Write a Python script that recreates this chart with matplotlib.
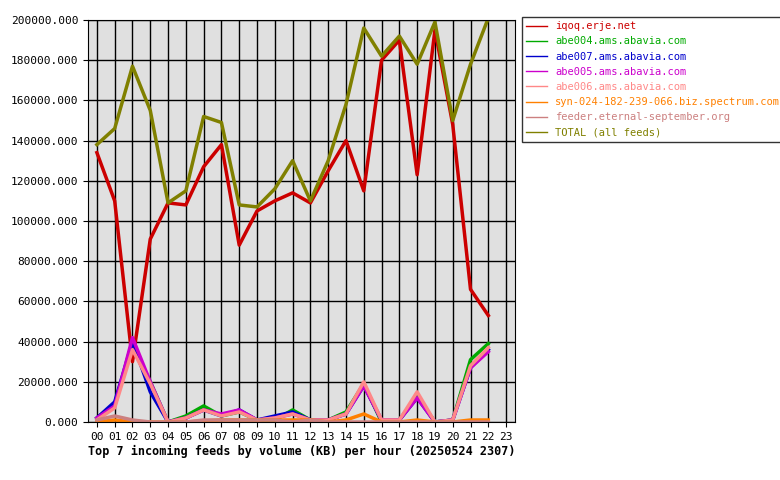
import matplotlib
matplotlib.use("Agg")
import matplotlib.pyplot as plt

hours = list(range(23))
tick_labels = [f"{h:02d}" for h in range(24)]
iqoq = [134,110,30,91,109,108,127,138,88,105,110,114,109,125,140,115,180,190,123,195,148,66,53]
abe004 = [2,9,38,20,0,3,8,3,5,1,1,6,1,1,5,19,0,1,13,0,1,31,39]
abe007 = [2,10,40,15,0,2,6,3,6,1,3,5,1,1,4,18,1,1,12,0,1,27,36]
abe005 = [2,8,42,20,0,2,6,4,6,1,2,4,1,1,4,18,1,1,12,0,1,27,35]
abe006 = [1,7,36,19,0,2,6,3,5,1,2,4,1,1,4,20,1,1,15,0,1,28,37]
syn = [0,1,0,0,0,0,0.5,1,1,1,1,1,1,0,1,4,0,0,1,0,0,1,1]
feeder = [1,3,1,0,0,0,1,1,1,1,1,0,1,0,0,0,0,0,0,0,0,0,0]
total = [138,146,177,155,109,115,152,149,108,107,116,130,110,130,158,196,182,192,178,199,150,178,201]

series = [
    ("iqoq.erje.net", iqoq, "#cc0000"),
    ("abe004.ams.abavia.com", abe004, "#00aa00"),
    ("abe007.ams.abavia.com", abe007, "#0000cc"),
    ("abe005.ams.abavia.com", abe005, "#cc00cc"),
    ("abe006.ams.abavia.com", abe006, "#ff8888"),
    ("syn-024-182-239-066.biz.spectrum.com", syn, "#ff8000"),
    ("feeder.eternal-september.org", feeder, "#cc8080"),
    ("TOTAL (all feeds)", total, "#808000"),
]

plt.rcParams['font.family'] = ['DejaVu Sans Mono']
fig = plt.figure(figsize=(7.8, 4.8), dpi=100)
ax = fig.add_axes([88/780, 58/480, 427/780, 402/480])
ax.set_facecolor("#e0e0e0")
for name, vals, c in series:
    ax.plot(hours, [v*1000 for v in vals], color=c, lw=2.5, label=name)
ax.set_xlim(-0.5, 23.5)
ax.set_ylim(0, 200000)
ax.set_xticks(range(24))
ax.set_xticklabels(tick_labels, fontsize=8)
ax.set_yticks(range(0, 200001, 20000))
ax.set_yticklabels([f"{v}.000" for v in range(0, 200001, 20000)], fontsize=8)
ax.grid(True, color="black", lw=1)
ax.set_axisbelow(True)
ax.set_xlabel("Top 7 incoming feeds by volume (KB) per hour (20250524 2307)", fontsize=8.5, fontweight="bold", loc="left", labelpad=2)
leg = fig.legend(loc="upper left", bbox_to_anchor=(522/780, 1-17/480), fontsize=7.5,
                 frameon=True, fancybox=False, edgecolor="black", handlelength=2, borderaxespad=0)
for t, (_, _, c) in zip(leg.get_texts(), series):
    t.set_color(c)
for l in leg.get_lines():
    l.set_linewidth(1)
fig.savefig("out.png", dpi=100)
